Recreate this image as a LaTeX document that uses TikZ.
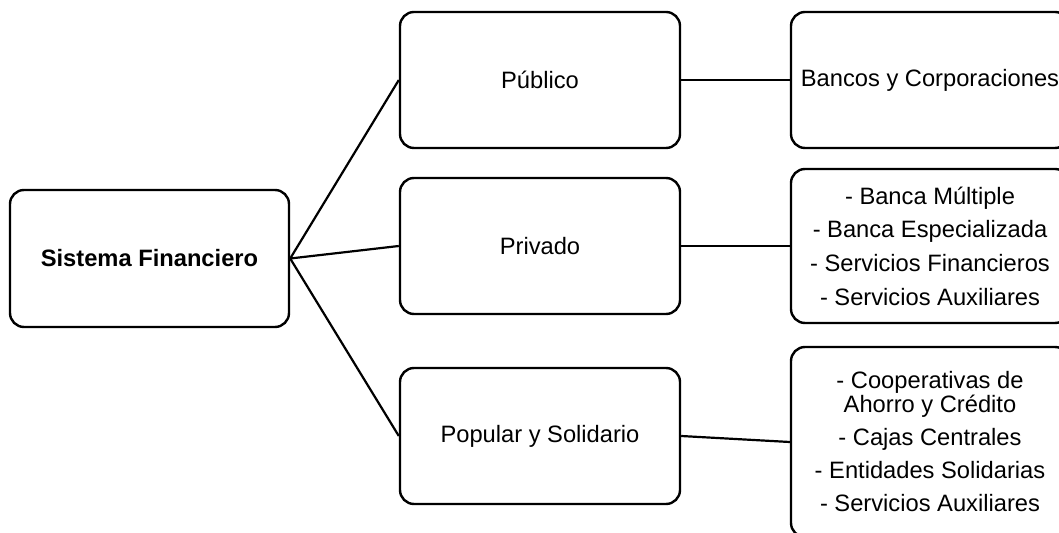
\documentclass[tikz,border=0pt]{standalone}
\usepackage{fontspec}
\setmainfont{Liberation Sans}

\begin{document}
\begin{tikzpicture}[x=0.5pt,y=-0.5pt,
  caja/.style={draw,line width=1.2pt,rounded corners=7pt,align=center,inner sep=0pt,
    minimum width=140pt,minimum height=68pt,font=\fontsize{11.85}{12}\selectfont},
  enlace/.style={line width=1.1pt}]
\useasboundingbox (0,0) rectangle (1059,533);
\clip (0,0) rectangle (1059,533);
\node[caja,minimum width=139.5pt,minimum height=68.5pt](sis) at (149.5,258.5){\textbf{Sistema Financiero}};
\node[caja](pub) at (540,80){P\'ublico};
\node[caja](pri) at (540,246){Privado};
\node[caja](pop) at (540,436){Popular y Solidario};
\node[caja,minimum width=139pt](ban) at (930,80){Bancos y Corporaciones};
\node[caja,minimum width=139pt,minimum height=77pt](mul) at (930,246){- Banca M\'ultiple\\[4.8pt]- Banca Especializada\\[4.8pt]- Servicios Financieros\\[4.8pt]- Servicios Auxiliares};
\node[caja,minimum width=139pt,minimum height=95pt](coo) at (930,442){- Cooperativas de\\Ahorro y Cr\'edito\\[4.5pt]- Cajas Centrales\\[4.5pt]- Entidades Solidarias\\[4.5pt]- Servicios Auxiliares};
\draw[enlace](sis.east)--(pub.west);
\draw[enlace](sis.east)--(pri.west);
\draw[enlace](sis.east)--(pop.west);
\draw[enlace](pub.east)--(ban.west);
\draw[enlace](pri.east)--(mul.west);
\draw[enlace](pop.east)--(coo.west);
\end{tikzpicture}
\end{document}
